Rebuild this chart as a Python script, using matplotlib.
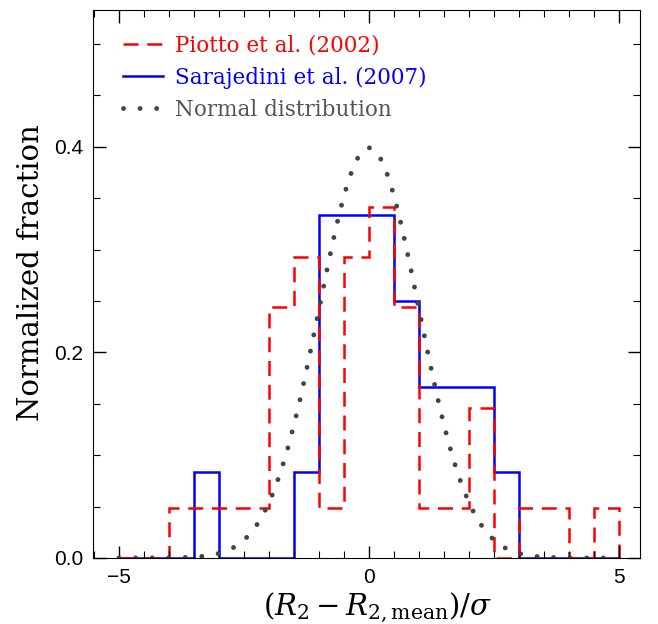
import numpy as np
import matplotlib
matplotlib.use("Agg")
import matplotlib.pyplot as plt
from matplotlib.ticker import MultipleLocator
from matplotlib.lines import Line2D

# Bin edges (width 0.5) from -5 to 5
bin_edges = np.arange(-5.0, 5.01, 0.5)

# Piotto et al. (2002): normalized fraction per bin
piotto = [0.0, 0.0, 0.0488, 0.0488, 0.0488, 0.0488, 0.2439, 0.2927, 0.0488, 0.2927,
          0.3415, 0.2439, 0.0488, 0.0488, 0.1463, 0.0, 0.0488, 0.0488, 0.0, 0.0488]

# Sarajedini et al. (2007): normalized fraction per bin
sarajedini = [0.0, 0.0, 0.0, 0.0833, 0.0, 0.0, 0.0, 0.0833, 0.3333, 0.3333,
              0.3333, 0.25, 0.1667, 0.1667, 0.1667, 0.0833, 0.0, 0.0, 0.0, 0.0]

labels = ["Piotto et al. (2002)", "Sarajedini et al. (2007)", "Normal distribution"]

plt.rcParams['mathtext.fontset'] = 'dejavuserif'

fig = plt.figure(figsize=(6.58, 6.24), dpi=100)
ax = fig.add_axes([0.1413, 0.1058, 0.8313, 0.8782])

dash = (0, (6, 3.5))
dots = (0, (0.01, 3.4))

ax.stairs(sarajedini, bin_edges, color='blue', lw=1.8, label=labels[1])
ax.stairs(piotto, bin_edges, color='red', lw=1.8, linestyle=dash, label=labels[0])

xg = np.linspace(-5, 5, 600)
yg = np.exp(-xg**2 / 2) / np.sqrt(2 * np.pi)
ax.plot(xg, yg, color='#444444', lw=3.5, linestyle=dots,
        dash_capstyle='round', label=labels[2])

ax.set_xlim(-5.52, 5.42)
ax.set_ylim(0, 0.533)

ax.xaxis.set_major_locator(MultipleLocator(5))
ax.xaxis.set_minor_locator(MultipleLocator(0.5))
ax.yaxis.set_major_locator(MultipleLocator(0.2))
ax.yaxis.set_minor_locator(MultipleLocator(0.05))
ax.tick_params(which='both', direction='in', top=True, right=True)
ax.tick_params(which='major', length=9, width=1.0, pad=7)
ax.tick_params(which='minor', length=5, width=0.8)
ax.set_xticks([-5, 0, 5])
ax.set_xticklabels(['\u22125', '0', '5'], family='Liberation Sans', fontsize=15)
ax.set_yticks([0.0, 0.2, 0.4])
ax.set_yticklabels(['0.0', '0.2', '0.4'], family='Liberation Sans', fontsize=15)

ax.set_ylabel('Normalized fraction', family='DejaVu Serif', fontsize=21)
ax.yaxis.set_label_coords(-0.088, 0.52)
ax.set_xlabel(r'$(R_2 - R_{2,\rm mean})/\sigma$', fontsize=21)
ax.xaxis.set_label_coords(0.52, -0.06)

h1 = Line2D([], [], color='red', lw=1.8, linestyle=dash)
h2 = Line2D([], [], color='blue', lw=1.8)
h3 = Line2D([], [], color='#444444', lw=3.5, linestyle=dots, dash_capstyle='round')
leg = ax.legend([h1, h2, h3], labels, loc='upper left', frameon=False,
                prop={'family': 'DejaVu Serif', 'size': 15.5},
                handlelength=1.85, handletextpad=0.55, labelspacing=0.46,
                bbox_to_anchor=(0.02, 0.99))
for t, c in zip(leg.get_texts(), ['red', 'blue', '#555555']):
    t.set_color(c)

fig.savefig('out.png', dpi=100)
